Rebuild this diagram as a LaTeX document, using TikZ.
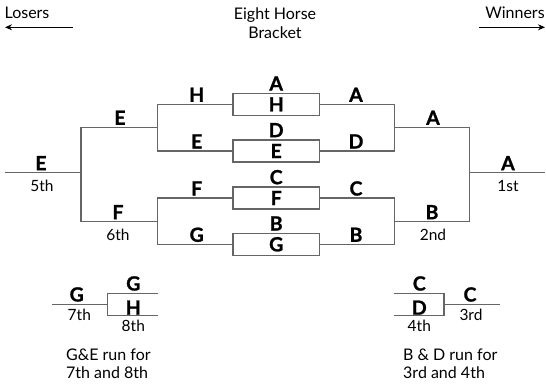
\documentclass[tikz,border=0pt]{standalone}
\usepackage{fontspec}
\setmainfont{Lato}
\newfontfamily\heavyfont{Lato}[UprightFont={* Bold}, FakeBold=1.2]
\usetikzlibrary{arrows.meta}
\definecolor{ln}{HTML}{666666}
\tikzset{
  ln/.style={draw=ln, line width=1.2pt},
  bx/.style={draw=ln, line width=1.2pt, minimum width=86.3pt, minimum height=22pt, inner sep=0pt, font=\fontsize{19.5}{20}\heavyfont},
  big/.style={inner sep=0pt, anchor=base, font=\fontsize{19.5}{20}\heavyfont},
  sm/.style={inner sep=0pt, anchor=base, font=\fontsize{15.5}{18}\selectfont},
  txt/.style={inner sep=0pt, font=\fontsize{16}{18.7}\selectfont},
  arr/.style={line width=0.9pt, -{Stealth[length=7pt,width=6pt]}}
}
\begin{document}
\begin{tikzpicture}[x=1pt,y=-1pt]
\useasboundingbox (0,0) rectangle (546,383);
% header
\node[txt] (losers) at (27,13) {Losers};
\node[txt] (winners) at (515,13) {Winners};
\node[txt, align=center] (title) at (275,23.5) {Eight Horse\\Bracket};
\coordinate (la) at (72.7,27.3); \coordinate (lb) at (5,27.3);
\coordinate (ra) at (479,27.3); \coordinate (rb) at (545,27.3);
\draw[arr] (la) -- (lb);
\draw[arr] (ra) -- (rb);
% boxes
\node[bx] (b1) at (276.2,104.3) {H};
\node[bx] (b2) at (276.2,151) {E};
\node[bx] (b3) at (276.2,198) {F};
\node[bx] (b4) at (276.2,244.3) {G};
\node[big] (t1) at (276.2,90.5) {A};
\node[big] (t2) at (276.2,137.2) {D};
\node[big] (t3) at (276.2,184.2) {C};
\node[big] (t4) at (276.2,230.5) {B};
% left side
\coordinate (jL1) at (157.3,127.3);
\coordinate (jL2) at (157.3,221.7);
\coordinate (kL) at (81,172.7);
\coordinate (eL) at (5,172.7);
\draw[ln] (b1.west) -| (jL1) |- (b2.west);
\draw[ln] (b3.west) -| (jL2) |- (b4.west);
\draw[ln] (jL1) -| (kL) |- (jL2);
\draw[ln] (kL) -- (eL);
% right side
\coordinate (jR1) at (394.3,127.3);
\coordinate (jR2) at (394.3,221.7);
\coordinate (kR) at (469.3,172.7);
\coordinate (eR) at (545,172.7);
\draw[ln] (b1.east) -| (jR1) |- (b2.east);
\draw[ln] (b3.east) -| (jR2) |- (b4.east);
\draw[ln] (jR1) -| (kR) |- (jR2);
\draw[ln] (kR) -- (eR);
% left labels
\node[big] (lh) at (196.7,101.8) {H};
\node[big] (le1) at (196.7,148.5) {E};
\node[big] (lf1) at (196.7,195.5) {F};
\node[big] (lg) at (196.7,241.8) {G};
\node[big] (le2) at (120,124.8) {E};
\node[big] (lf2) at (118,219.2) {F};
\node[sm] (l6) at (118,240.5) {6th};
\node[big] (le3) at (41,170.2) {E};
\node[sm] (l5) at (42,191.5) {5th};
% right labels
\node[big] (ra1) at (356,101.8) {A};
\node[big] (rd) at (356,148.5) {D};
\node[big] (rc) at (356,195.5) {C};
\node[big] (rb1) at (356,241.8) {B};
\node[big] (ra2) at (433,124.8) {A};
\node[big] (rb2) at (432,219.2) {B};
\node[sm] (r2) at (433,240.5) {2nd};
\node[big] (ra3) at (508,170.2) {A};
\node[sm] (r1) at (508,191.5) {1st};
% bottom left
\coordinate (gl1) at (157.7,293.3); \coordinate (gl2) at (107.7,293.3);
\coordinate (gl3) at (107.7,315.7); \coordinate (gl4) at (157.7,315.7);
\coordinate (gm) at (107.7,304.3); \coordinate (ge) at (51.7,304.3);
\draw[ln] (gl1) -- (gl2) -- (gl3) -- (gl4);
\draw[ln] (gm) -- (ge);
\node[big] (g7) at (76.7,301.5) {G};
\node[sm] (s7) at (79.3,320) {7th};
\node[big] (gtop) at (133.3,290.5) {G};
\node[big] (hin) at (133.3,314.7) {H};
\node[sm] (s8) at (133.3,331.5) {8th};
\node[txt, anchor=west, align=left] (ge1) at (66,363.7) {G\&E run for\\7th and 8th};
% bottom right
\coordinate (cr1) at (394,293.3); \coordinate (cr2) at (444,293.3);
\coordinate (cr3) at (444,315.7); \coordinate (cr4) at (394,315.7);
\coordinate (cm) at (444,304.3); \coordinate (ce) at (500,304.3);
\draw[ln] (cr1) -- (cr2) -- (cr3) -- (cr4);
\draw[ln] (cm) -- (ce);
\node[big] (ctop) at (419.3,290.5) {C};
\node[big] (din) at (419.3,314.7) {D};
\node[sm] (s4) at (419.3,331.5) {4th};
\node[big] (c3) at (470,301.5) {C};
\node[sm] (s3) at (471,320) {3rd};
\node[txt, anchor=west, align=left] (bd1) at (403,363.7) {B \& D run for\\3rd and 4th};
\end{tikzpicture}
\end{document}
